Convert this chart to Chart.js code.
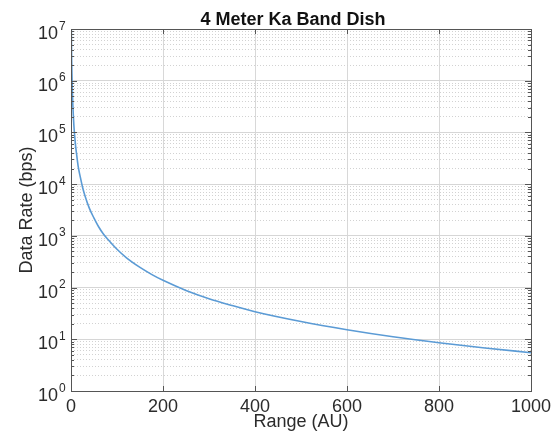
<!DOCTYPE html>
<html>
<head>
<meta charset="utf-8">
<script src="https://cdn.jsdelivr.net/npm/chart.js@4.4.1/dist/chart.umd.min.js"></script>
<style>
  html, body { margin: 0; padding: 0; background: #ffffff; }
  #wrap { width: 559px; height: 441px; }
</style>
</head>
<body>
<div id="wrap"><canvas id="rateChart" width="559" height="441"></canvas></div>
<script>
const rangeAU = [0.75, 1, 1.5, 2, 3, 4, 5, 7, 10, 13, 16, 20, 25, 30, 40, 50, 60, 70, 80,
    100, 120, 150, 175, 200, 250, 300, 350, 400, 500, 600, 700, 800, 900, 1000];
const dataRate = [9.8e6, 5.5e6, 2.4e6, 1.4e6, 6.1e5, 3.4e5, 2.2e5, 1.1e5, 5.5e4, 3.3e4, 2.1e4,
    1.4e4, 8800, 6100, 3400, 2200, 1500, 1100, 860, 550, 380, 245, 180, 138, 88, 61, 45, 34,
    22, 15.3, 11.2, 8.6, 6.8, 5.5];

// Axis ticks
const xTicks = [0, 200, 400, 600, 800, 1000];
const yDecades = [1, 10, 100, 1e3, 1e4, 1e5, 1e6, 1e7];
const yTickExponents = ['0', '1', '2', '3', '4', '5', '6', '7'];

const chartTitle = '4 Meter Ka Band Dish';

const FONT = "'Liberation Sans', Arial, Helvetica, sans-serif";
const TEXT = '#2b2b2b';

document.addEventListener('DOMContentLoaded', function () {
    const ctx = document.getElementById('rateChart').getContext('2d');

    // minor ticks of the log axis: 2..9 of every decade
    const yAllTicks = [];
    yDecades.forEach((d, i) => {
        yAllTicks.push({ value: d, major: true });
        if (i < yDecades.length - 1) {
            for (let m = 2; m <= 9; m++) yAllTicks.push({ value: m * d, major: false });
        }
    });

    // box, inward tick marks, "10^n" labels and the title
    const frame = {
        id: 'frame',
        afterDraw(chart) {
            const { ctx, chartArea: a, scales } = chart;
            ctx.save();
            ctx.strokeStyle = '#555555';
            ctx.lineWidth = 1;
            ctx.beginPath();
            scales.y.ticks.forEach(t => {
                const py = Math.round(scales.y.getPixelForValue(t.value)) + 0.5;
                const len = t.major ? 6 : 3;
                ctx.moveTo(a.left, py); ctx.lineTo(a.left + len, py);
                ctx.moveTo(a.right, py); ctx.lineTo(a.right - len, py);
            });
            scales.x.ticks.forEach(t => {
                const px = Math.round(scales.x.getPixelForValue(t.value)) + 0.5;
                ctx.moveTo(px, a.bottom); ctx.lineTo(px, a.bottom - 5);
                ctx.moveTo(px, a.top); ctx.lineTo(px, a.top + 5);
            });
            ctx.stroke();
            ctx.strokeRect(Math.round(a.left) + 0.5, Math.round(a.top) + 0.5,
                Math.round(a.right - a.left), Math.round(a.bottom - a.top));

            // y labels as 10 with a raised exponent
            ctx.fillStyle = TEXT;
            ctx.textBaseline = 'alphabetic';
            yDecades.forEach((d, i) => {
                const py = scales.y.getPixelForValue(d);
                ctx.font = '18px ' + FONT;
                ctx.textAlign = 'right';
                ctx.fillText('10', a.left - 13, py + 10);
                ctx.font = '12px ' + FONT;
                ctx.textAlign = 'left';
                ctx.fillText(yTickExponents[i], a.left - 12, py + 0.5);
            });

            ctx.fillStyle = '#111111';
            ctx.font = 'bold 18px ' + FONT;
            ctx.textAlign = 'center';
            ctx.fillText(chartTitle, 293, 25);
            ctx.restore();
        }
    };

    new Chart(ctx, {
        type: 'scatter',
        data: {
            datasets: [{
                label: 'Data Rate',
                data: rangeAU.map((r, i) => ({ x: r, y: dataRate[i] })),
                showLine: true,
                borderColor: '#5b9bd5',
                borderWidth: 1.6,
                pointRadius: 0,
                cubicInterpolationMode: 'monotone'
            }]
        },
        options: {
            responsive: false,
            animation: false,
            layout: { padding: { left: 0, right: 28, top: 29, bottom: 0 } },
            plugins: {
                legend: { display: false },
                tooltip: { enabled: false },
                title: { display: false }
            },
            scales: {
                x: {
                    type: 'linear',
                    min: 0,
                    max: 1000,
                    afterBuildTicks: scale => { scale.ticks = xTicks.map(v => ({ value: v })); },
                    afterFit: scale => { scale.height = 50; },
                    grid: { color: '#d8d8d8', drawTicks: false },
                    border: { display: false },
                    ticks: {
                        color: TEXT,
                        font: { family: FONT, size: 18 },
                        padding: 5,
                        maxRotation: 0,
                        callback: value => String(value)
                    },
                    title: {
                        display: true,
                        text: 'Range (AU)',
                        color: TEXT,
                        font: { family: FONT, size: 18 },
                        padding: { top: 0, bottom: 8 }
                    }
                },
                y: {
                    type: 'logarithmic',
                    min: 1,
                    max: 1e7,
                    afterBuildTicks: scale => { scale.ticks = yAllTicks.map(t => ({ ...t })); },
                    afterFit: scale => { scale.width = 71; },
                    grid: {
                        drawTicks: false,
                        color: c => (c.tick && c.tick.major) ? '#d6d6d6' : '#d2d2d2'
                    },
                    border: {
                        display: false,
                        dash: c => (c.tick && !c.tick.major) ? [1, 2] : []
                    },
                    ticks: { display: false },
                    title: {
                        display: true,
                        text: 'Data Rate (bps)',
                        color: TEXT,
                        font: { family: FONT, size: 18 },
                        padding: { top: 16, bottom: 0 }
                    }
                }
            }
        },
        plugins: [frame]
    });
});
</script>
</body>
</html>
